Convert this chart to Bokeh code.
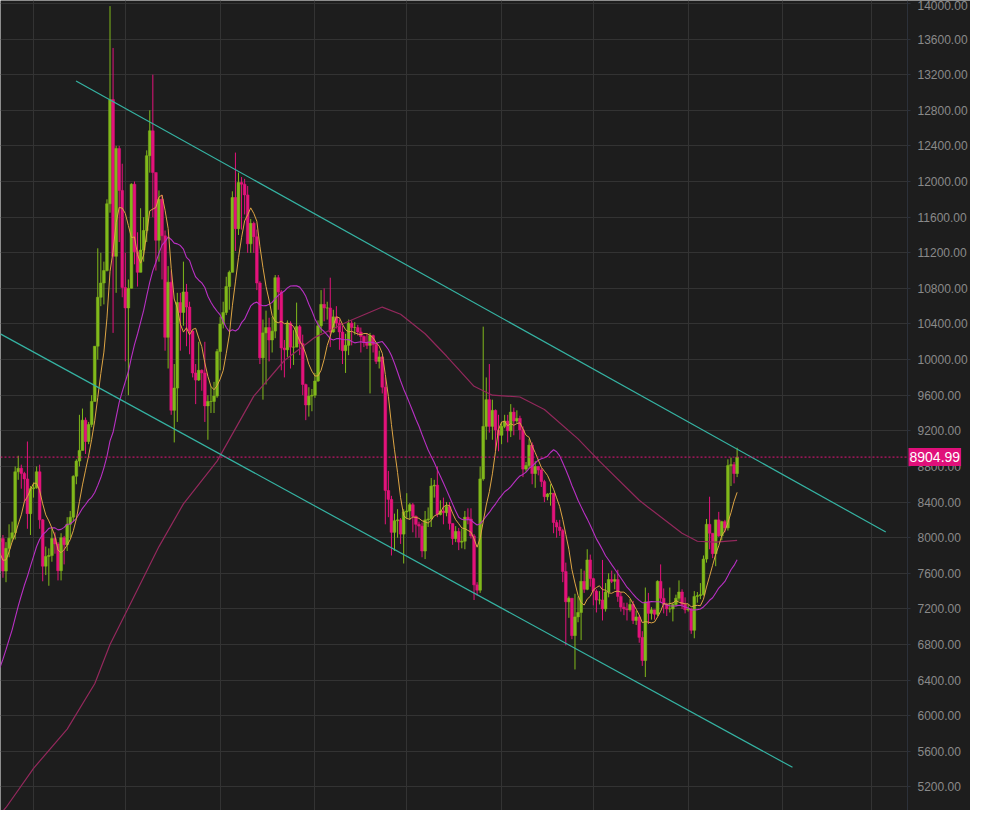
import numpy as np
import pandas as pd
from bokeh.plotting import figure
from bokeh.models import (Range1d, FixedTicker, LinearAxis, Label,
                          ColumnDataSource, PrintfTickFormatter)
from bokeh.embed import file_html
from bokeh.resources import INLINE

# ---------------- data (BTC/USDT daily) ----------------
start_date = "2019-05-21"
ref_date = "2019-07-01"          # day 0 of the x scale
first_open = 7955.0

# closes before the first visible candle (used for the 7 / 25 day averages)
prehistory_close = [5219, 5205, 5185, 5295, 5365, 5487, 5758, 5788, 5752, 5702,
                    5813, 5965, 6170, 6340, 7060, 6815, 7806, 7970, 8183, 7860,
                    7360, 7262, 8181, 7950]

close = [
    # May 21-31
    7990, 7625, 7880, 7995, 8055, 8740, 8780, 8720, 8660, 8270, 8550,
    # Jun
    8560, 8740, 8200, 7680, 7790, 7800, 7990, 7930, 7630, 8000, 7920, 8150, 8230, 8690, 8860,
    8980, 9320, 9080, 9270, 9530, 10150, 10700, 10860, 11000, 11750, 12920, 11160, 12370, 11900, 10810,
    # Jul
    10580, 10800, 11970, 11210, 10980, 11230, 11450, 12290, 12570, 12100, 11340, 11800, 11390, 10250, 10870,
    9430, 9680, 10640, 10530, 10760, 10590, 10320, 9850, 9770, 9880, 9850, 9480, 9530, 9530, 9590, 10090,
    # Aug
    10400, 10530, 10820, 10980, 11820, 11470, 11990, 11970, 11850, 11300, 11530, 11380, 10860, 10020, 10300,
    10360, 10220, 10320, 10920, 10760, 10130, 10110, 10410, 10140, 10140, 10370, 10180, 9720, 9490, 9590, 9600,
    # Sep
    9760, 10380, 10620, 10580, 10580, 10310, 10480, 10410, 10310, 10100, 10160, 10410, 10360, 10360, 10310,
    10260, 10190, 10160, 10270, 10170, 9980, 10030, 9690, 8530, 8430, 8060, 8190, 8200, 8040, 8290,
    # Oct
    8300, 8370, 8240, 8150, 8130, 7850, 8200, 8210, 8580, 8590, 8260, 8300, 8280, 8350, 8160,
    7990, 8070, 7950, 7960, 8230, 8210, 8020, 7470, 7410, 8660, 9250, 9550, 9250, 9430, 9210, 9150,
    # Nov
    9250, 9310, 9200, 9410, 9310, 9340, 9210, 8770, 8810, 9040, 8720, 8800, 8760, 8630, 8460,
    8490, 8500, 8170, 8120, 8080, 7620, 7280, 7320, 6900, 7110, 7160, 7510, 7420, 7750, 7540,
    # Dec
    7400, 7300, 7300, 7200, 7390, 7530, 7510, 7530, 7340, 7220, 7200, 7190, 7250, 7070, 7110,
    6880, 6620, 7280, 7150, 7190, 7140, 7510, 7320, 7250, 7200, 7200, 7250, 7320, 7390, 7250, 7190,
    # Jan 1-17
    7200, 6960, 7340, 7350, 7360, 7760, 8150, 8050, 7820, 8200, 8020, 8180, 8110, 8810, 8820, 8720, 8904.99,
]

high = [
    8100, 8030, 7950, 8150, 8180, 8800, 8920, 8820, 8740, 9080, 8580,
    8620, 8800, 8820, 8210, 7900, 7880, 8100, 8060, 7950, 8050, 8020, 8230, 8300, 8700, 8880,
    9380, 9450, 9350, 9300, 9600, 10150, 11250, 11200, 11100, 11800, 13970, 13500, 12400, 12400, 12200,
    11200, 10900, 11980, 12000, 11430, 11700, 11600, 12350, 12800, 13200, 12100, 11900, 11850, 11450, 11050,
    11000, 9950, 10750, 10750, 11100, 10850, 10650, 10330, 9950, 10200, 9890, 10200, 9600, 9700, 9750, 10120,
    10480, 10650, 10930, 11000, 11890, 12325, 12100, 12050, 12030, 11950, 11580, 11550, 11460, 10880, 10450,
    10550, 10470, 10480, 10950, 10950, 10780, 10220, 10440, 10430, 10330, 10640, 10390, 10280, 9730, 9690, 9670,
    9850, 10440, 10780, 10800, 10650, 10920, 10560, 10600, 10450, 10380, 10290, 10450, 10440, 10420, 10390,
    10360, 10270, 10290, 10300, 10280, 10180, 10100, 10040, 9800, 8750, 8470, 8270, 8320, 8220, 8320,
    8500, 8390, 8390, 8250, 8180, 8170, 8300, 8340, 8670, 8650, 8800, 8420, 8450, 8400, 8400,
    8160, 8130, 8110, 8100, 8300, 8330, 8330, 8040, 7500, 8800, 10370, 9800, 9950, 9550, 9440, 9380,
    9300, 9380, 9380, 9500, 9460, 9430, 9370, 9250, 8850, 9110, 9070, 8860, 8800, 8780, 8650,
    8500, 8600, 8500, 8200, 8200, 8100, 7720, 7340, 7320, 7370, 7340, 7650, 7630, 7870, 7810,
    7550, 7420, 7400, 7750, 7490, 7600, 7630, 7590, 7640, 7390, 7270, 7270, 7310, 7290, 7180,
    7130, 6950, 7440, 7380, 7220, 7190, 7520, 7700, 7430, 7270, 7440, 7270, 7360, 7520, 7420, 7330,
    7250, 7210, 7400, 7390, 7490, 7800, 8210, 8460, 8050, 8200, 8290, 8190, 8200, 8880, 8900, 8850, 9010,
]

low = [
    7800, 7550, 7500, 7780, 7950, 7980, 8650, 8550, 8400, 8100, 8030,
    8450, 8550, 8100, 7510, 7580, 7460, 7730, 7820, 7520, 7520, 7700, 7850, 8000, 8180, 8600,
    8800, 8980, 8940, 9050, 9240, 9530, 10000, 10600, 10620, 10990, 11650, 10300, 10750, 11320, 10700,
    9980, 9600, 10800, 11070, 10820, 10980, 11100, 11320, 12100, 11600, 11000, 11100, 10900, 10100, 9900,
    9380, 9070, 9300, 10100, 10380, 10150, 10060, 9800, 9500, 9760, 9650, 9300, 9100, 9400, 9400, 9570,
    9880, 10350, 10500, 10560, 10980, 11220, 11400, 11460, 11630, 11200, 11200, 11200, 10780, 9950, 9550,
    9720, 9980, 10080, 10240, 10560, 9880, 9800, 10030, 9900, 9940, 10140, 10050, 9600, 9320, 9360, 9420,
    9570, 9750, 10300, 10430, 10450, 10140, 10300, 10350, 10110, 9950, 9850, 10050, 10160, 10280, 10270,
    10080, 10140, 10120, 9620, 10080, 9950, 9900, 9620, 8150, 8230, 7800, 7850, 8000, 7930, 7710,
    8210, 8200, 8060, 8000, 8000, 7780, 7760, 8120, 8120, 8450, 8230, 8250, 8150, 8240, 8090,
    7920, 7950, 7860, 7880, 7870, 8150, 7990, 7300, 7350, 7380, 8640, 9100, 9180, 9100, 8970, 8970,
    9050, 9230, 9070, 9130, 9150, 9290, 9100, 8680, 8740, 8780, 8600, 8560, 8700, 8570, 8400,
    8420, 8360, 8050, 8000, 8020, 7500, 6790, 7100, 6860, 6520, 7050, 6850, 7380, 7410, 7450,
    7240, 7160, 7250, 7070, 7170, 7330, 7490, 7420, 7280, 7170, 7130, 7070, 7170, 7030, 7020,
    6820, 6560, 6435, 7030, 7080, 7080, 7120, 7270, 7150, 7120, 7160, 7060, 7230, 7290, 7200, 7150,
    7170, 6920, 6870, 7270, 7310, 7350, 7720, 7870, 7770, 7680, 8010, 7970, 8060, 8080, 8580, 8610, 8680,
]

# slow (99 day) average at these days (day 0 = 1 Jul 2019)
ma99_day = [-41, -39, -30, -19, -10, -5, 2, 11, 19, 30, 42, 52, 62, 73, 84, 90, 98,
            105, 114, 120, 129, 137, 148, 155, 168, 171, 182, 187, 193, 200]
ma99_value = [4890, 4970, 5410, 5850, 6360, 6800, 7280, 7900, 8380, 8860, 9590, 9990,
              10250, 10430, 10590, 10510, 10290, 10040, 9700, 9600, 9580, 9440, 9110,
              8860, 8420, 8340, 8050, 7960, 7950, 7970]

# channel lines (day, price)
upper_day = [-16.1, 248.6]
upper_price = [13130, 8064]
lower_day = [-40.85, 218.1]
lower_price = [10289, 5421]

last_price = 8904.99
y_ticks = [5200, 5600, 6000, 6400, 6800, 7200, 7600, 8000, 8400, 8800, 9200, 9600,
           10000, 10400, 10800, 11200, 11600, 12000, 12400, 12800, 13200, 13600, 14000]
month_starts = ["2019-06-01", "2019-07-01", "2019-08-01", "2019-09-01", "2019-10-01",
                "2019-11-01", "2019-12-01", "2020-01-01", "2020-02-01", "2020-03-01"]

# ---------------- derived ----------------
assert len(close) == len(high) == len(low)
dates = pd.date_range(start_date, periods=len(close), freq="D")
day = np.array((dates - pd.Timestamp(ref_date)).days, dtype=float)
c = np.array(close, dtype=float)
o = np.array([first_open] + close[:-1], dtype=float)
h = np.maximum.reduce([np.array(high, float), o, c])
l = np.minimum.reduce([np.array(low, float), o, c])

UP = "#80b91b"
DOWN = "#e3137b"
col = np.where(c >= o, UP, DOWN)

full = pd.Series(list(prehistory_close) + list(close), dtype=float)
ma7 = full.rolling(7).mean().to_numpy()[len(prehistory_close):]
ma25 = full.rolling(25).mean().to_numpy()[len(prehistory_close):]

src = ColumnDataSource(dict(x=day, o=o, h=h, l=l, c=c,
                            top=np.maximum(o, c), bot=np.minimum(o, c), col=col,
                            ma7=ma7, ma25=ma25))

# ---------------- layout ----------------
W, H = 970, 810
PLOT_W = 907                       # width of the candle area, the price scale sits right of it
x_start, axis_x = -40.8, 255.7     # day at left edge, day at the price-scale line
px_per_day = PLOT_W / (axis_x - x_start)
x_end = x_start + W / px_per_day
y_start, y_end = 4936, 14033

BG = "#1d1d1d"
GRID = "#333333"

p = figure(width=W, height=H, output_backend="svg", toolbar_location=None,
           x_range=Range1d(x_start, x_end), y_range=Range1d(y_start, y_end),
           x_axis_location=None, y_axis_location=None,
           background_fill_color=BG, border_fill_color=BG,
           outline_line_color=None, min_border=0)

# grids
month_x = [float((pd.Timestamp(m) - pd.Timestamp(ref_date)).days) for m in month_starts]
for g in p.xgrid:
    g.ticker = FixedTicker(ticks=month_x)
    g.grid_line_color = GRID
for g in p.ygrid:
    g.ticker = FixedTicker(ticks=y_ticks)
    g.grid_line_color = GRID
grid_clipped = True
try:
    for g in p.ygrid:
        g.cross_bounds = (x_start, axis_x)
    for g in p.xgrid:
        g.cross_bounds = (y_start, y_end)
except Exception:
    grid_clipped = False
if not grid_clipped:
    for g in p.ygrid:
        g.visible = False
    p.segment(x0=[x_start] * len(y_ticks), y0=y_ticks, x1=[axis_x] * len(y_ticks),
              y1=y_ticks, line_color=GRID, line_width=1)

# price scale (drawn at a fixed spot inside the frame)
ax = LinearAxis(fixed_location=axis_x, ticker=FixedTicker(ticks=y_ticks),
                formatter=PrintfTickFormatter(format="%.2f"))
ax.major_label_text_color = "#8a8a8a"
ax.major_label_text_font = "Liberation Sans"
ax.major_label_text_font_size = "12px"
ax.major_label_standoff = 7
ax.axis_line_color = "#2c313a"
ax.major_tick_line_color = "#2c313a"
ax.major_tick_in = 0
ax.major_tick_out = 3
ax.minor_tick_line_color = None
p.add_layout(ax, "right")

# candles
p.segment(x0="x", y0="l", x1="x", y1="h", line_color="col", line_width=1, source=src)
p.vbar(x="x", width=0.9, top="top", bottom="bot", fill_color="col",
       line_color="col", line_width=0.5, source=src)

# moving averages
p.line(ma99_day, ma99_value, line_color="#93285c", line_width=1.2)
p.line("x", "ma25", line_color="#b930c4", line_width=1.1, source=src)
p.line("x", "ma7", line_color="#dea544", line_width=1, source=src)

# channel
p.line(upper_day, upper_price, line_color="#35b3a3", line_width=1.2)
p.line(lower_day, lower_price, line_color="#35b3a3", line_width=1.2)

# last price line and tag
p.segment(x0=[x_start], y0=[last_price], x1=[axis_x], y1=[last_price],
          line_color=DOWN, line_dash="2 2", line_width=1)
p.add_layout(Label(x=axis_x, y=last_price, x_offset=1, text=f"{last_price:.2f}",
                   text_color="white", text_font="Liberation Sans",
                   text_font_size="14px", text_baseline="middle", text_align="left",
                   background_fill_color="#e0107a", padding=(1, 4)))

open("out.html", "w").write(file_html(p, INLINE))
